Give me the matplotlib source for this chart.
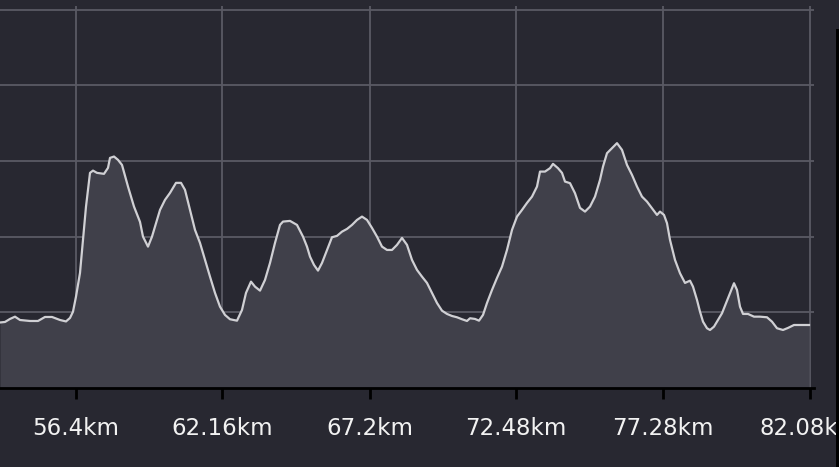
import matplotlib
matplotlib.use("Agg")
import matplotlib.pyplot as plt
from matplotlib.patches import Rectangle

# profile points (sample index along the track) and elevation (m)
point_idx = [0, 5, 10, 15, 20, 25, 30, 38, 45, 52, 60, 66, 70, 73, 76, 80, 83, 86, 88, 90,
             93, 97, 104, 108, 110, 114, 118, 122, 128, 134, 140, 143, 148, 152, 155, 160,
             165, 170, 176, 181, 185, 190, 195, 200, 205, 210, 215, 220, 225, 230, 237, 242,
             246, 251, 255, 260, 265, 270, 275, 280, 283, 290, 297, 303, 307, 310, 314, 318,
             322, 327, 332, 337, 342, 347, 352, 357, 362, 367, 372, 377, 382, 387, 392, 397,
             402, 407, 412, 417, 422, 427, 432, 437, 442, 447, 452, 457, 462, 467, 470, 475,
             479, 483, 487, 492, 497, 502, 507, 512, 517, 522, 527, 532, 537, 540, 545, 550,
             553, 558, 562, 565, 570, 575, 580, 585, 590, 595, 600, 603, 607, 612, 617, 622,
             627, 632, 637, 642, 647, 652, 657, 660, 664, 667, 670, 675, 680, 685, 690, 693,
             697, 700, 703, 707, 710, 714, 718, 722, 726, 730, 734, 737, 740, 743, 748, 754,
             760, 767, 772, 777, 783, 788, 794, 800, 809]
elevation = [86.6, 87.3, 91.3, 94.3, 89.9, 89.3, 88.6, 88.6, 93.9, 93.9, 89.9, 88.0, 92.6,
             100.9, 120.8, 152.1, 195.8, 239.8, 261.9, 284.4, 287.4, 284.4, 283.1, 291.0,
             304.2, 306.0, 301.6, 294.9, 266.3, 239.8, 219.6, 200.1, 186.9, 200.1, 213.4,
             235.4, 248.7, 257.9, 271.2, 271.2, 261.9, 235.4, 209.0, 191.8, 169.3, 147.2,
             125.7, 107.5, 96.6, 90.9, 89.0, 103.2, 125.7, 140.6, 134.0, 128.7, 142.9, 165.3,
             191.8, 215.6, 220.0, 220.9, 215.6, 200.1, 186.9, 173.7, 162.7, 155.2, 165.3,
             182.5, 199.3, 201.1, 206.7, 210.3, 215.6, 222.2, 226.6, 222.2, 211.6, 200.1,
             186.9, 182.5, 182.5, 189.2, 198.4, 189.2, 169.3, 156.1, 147.2, 138.9, 125.7,
             112.4, 102.2, 97.9, 95.2, 93.5, 90.9, 88.6, 92.2, 91.3, 89.0, 96.6, 112.4, 129.6,
             145.5, 160.4, 182.5, 209.0, 226.6, 235.4, 244.7, 253.0, 266.3, 286.1, 286.1,
             290.6, 296.3, 290.6, 284.4, 272.9, 270.8, 257.5, 238.1, 233.2, 239.8, 253.0,
             275.1, 292.7, 310.4, 317.0, 323.7, 314.8, 294.9, 281.7, 266.3, 253.0, 246.4,
             237.7, 228.8, 233.2, 228.8, 217.9, 195.8, 169.3, 151.7, 138.9, 141.9, 134.0,
             116.4, 100.9, 87.7, 79.0, 76.7, 81.1, 89.9, 98.8, 112.0, 125.3, 138.5, 129.6,
             107.5, 97.9, 97.9, 94.3, 94.3, 93.5, 87.7, 79.0, 76.7, 79.4, 83.3, 83.3, 83.3]

tick_idx = [76, 222, 370, 516, 663, 810]
tick_labels = ["56.4km", "62.16km", "67.2km", "72.48km", "77.28km", "82.08km"]

bg = "#282831"
W, H = 839, 467
fig = plt.figure(figsize=(W / 100, H / 100), dpi=100, facecolor=bg)
ax = fig.add_axes([0, (H - 388) / H, 814 / W, (388 - 6) / H])
ax.set_facecolor(bg)

ax.fill_between(point_idx, elevation, 0, color="#40404a", lw=0, zorder=2)
ax.plot(point_idx, elevation, color="#d0d0d4", lw=1.6, zorder=3)

ax.set_xlim(0, 814)
ax.set_ylim(0, 505)
ax.set_xticks(tick_idx)
ax.set_xticklabels(tick_labels)
ax.set_yticks([100, 200, 300, 400, 500])
ax.set_yticklabels([])
ax.tick_params(axis="y", length=0)
ax.tick_params(axis="x", colors="black", length=8, width=2, pad=13,
               labelcolor="#f2f2f2", labelsize=16.5)
ax.grid(True, color="#5a5a64", lw=1.3, zorder=1)
ax.set_axisbelow(True)

for s in ["top", "left", "right"]:
    ax.spines[s].set_visible(False)
ax.spines["bottom"].set_color("black")
ax.spines["bottom"].set_linewidth(2)

# dark bar at the right edge
fig.add_artist(Rectangle((836 / W, 0), 3 / W, (H - 29) / H, transform=fig.transFigure,
                         color="black", lw=0))

fig.savefig("out.png", dpi=100, facecolor=bg)
